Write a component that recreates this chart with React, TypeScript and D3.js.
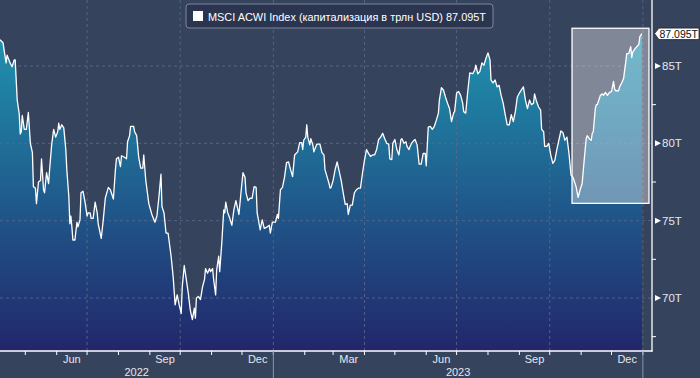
import React from 'react';
import * as d3 from 'd3';

// MSCI ACWI market capitalisation, trillions USD
const msciPoints: [string, number][] = [
  ['2022-04-06', 86.7], ['2022-04-09', 86.5], ['2022-04-12', 85.2], ['2022-04-13', 85.7], ['2022-04-16', 85.2],
  ['2022-04-18', 84.95], ['2022-04-20', 85.4], ['2022-04-21', 85.4], ['2022-04-23', 82.8], ['2022-04-25', 81.9],
  ['2022-04-26', 80.6], ['2022-04-27', 80.75], ['2022-04-28', 81.8], ['2022-04-30', 80.9],
  ['2022-05-02', 80.9], ['2022-05-04', 82.0], ['2022-05-06', 80.0], ['2022-05-08', 79.4], ['2022-05-09', 77.2],
  ['2022-05-11', 77.1], ['2022-05-12', 76.1], ['2022-05-14', 77.5], ['2022-05-16', 77.6], ['2022-05-17', 79.0],
  ['2022-05-19', 77.0], ['2022-05-20', 76.8], ['2022-05-22', 78.1], ['2022-05-24', 77.4], ['2022-05-25', 78.3],
  ['2022-05-27', 79.9], ['2022-05-29', 80.9], ['2022-05-31', 80.4],
  ['2022-06-02', 80.75], ['2022-06-03', 81.3], ['2022-06-04', 80.9], ['2022-06-06', 81.2], ['2022-06-08', 81.0],
  ['2022-06-10', 79.6], ['2022-06-11', 78.3], ['2022-06-13', 76.55], ['2022-06-14', 74.8], ['2022-06-15', 75.3],
  ['2022-06-16', 74.6], ['2022-06-17', 73.75], ['2022-06-19', 73.75], ['2022-06-21', 74.9], ['2022-06-22', 74.6],
  ['2022-06-24', 75.05], ['2022-06-25', 76.8], ['2022-06-27', 76.9], ['2022-06-29', 76.2],
  ['2022-07-01', 75.3], ['2022-07-02', 75.5], ['2022-07-04', 75.5], ['2022-07-05', 75.15], ['2022-07-07', 75.15],
  ['2022-07-09', 76.2], ['2022-07-11', 75.5], ['2022-07-12', 74.8], ['2022-07-15', 73.85], ['2022-07-17', 75.05],
  ['2022-07-19', 76.45], ['2022-07-22', 77.15], ['2022-07-24', 77.0], ['2022-07-27', 76.4], ['2022-07-29', 78.3],
  ['2022-07-30', 79.0],
  ['2022-08-01', 79.1], ['2022-08-03', 78.5], ['2022-08-04', 79.2], ['2022-08-07', 79.1], ['2022-08-09', 79.0],
  ['2022-08-10', 80.1], ['2022-08-12', 80.5], ['2022-08-13', 81.1], ['2022-08-16', 81.1], ['2022-08-17', 80.75],
  ['2022-08-19', 80.5], ['2022-08-21', 79.1], ['2022-08-23', 78.4], ['2022-08-25', 78.4], ['2022-08-26', 79.25],
  ['2022-08-28', 77.6], ['2022-08-31', 76.1],
  ['2022-09-03', 75.4], ['2022-09-06', 74.9], ['2022-09-08', 75.3], ['2022-09-10', 76.55], ['2022-09-12', 78.0],
  ['2022-09-13', 75.9], ['2022-09-15', 75.5], ['2022-09-17', 74.2], ['2022-09-19', 74.2], ['2022-09-22', 72.7],
  ['2022-09-24', 71.4], ['2022-09-26', 69.55], ['2022-09-28', 70.2], ['2022-09-30', 69.55],
  ['2022-10-02', 69.0], ['2022-10-03', 70.7], ['2022-10-05', 72.1], ['2022-10-07', 71.2], ['2022-10-09', 70.3],
  ['2022-10-11', 69.2], ['2022-10-13', 68.6], ['2022-10-15', 69.35], ['2022-10-16', 68.7], ['2022-10-17', 70.0],
  ['2022-10-19', 70.1], ['2022-10-21', 69.9], ['2022-10-23', 70.7], ['2022-10-25', 71.2], ['2022-10-26', 71.9],
  ['2022-10-28', 71.6], ['2022-10-30', 71.9], ['2022-10-31', 71.7],
  ['2022-11-02', 71.9], ['2022-11-03', 71.2], ['2022-11-05', 70.2], ['2022-11-06', 71.8], ['2022-11-08', 72.7],
  ['2022-11-09', 71.7], ['2022-11-11', 73.5], ['2022-11-13', 75.7], ['2022-11-14', 75.5], ['2022-11-15', 76.2],
  ['2022-11-17', 75.5], ['2022-11-19', 75.15], ['2022-11-21', 74.7], ['2022-11-23', 75.7], ['2022-11-25', 76.3],
  ['2022-11-28', 75.4], ['2022-11-30', 76.8],
  ['2022-12-02', 78.1], ['2022-12-04', 77.8], ['2022-12-05', 76.8], ['2022-12-07', 76.3], ['2022-12-09', 76.45],
  ['2022-12-11', 76.45], ['2022-12-13', 77.2], ['2022-12-15', 77.15], ['2022-12-16', 75.5], ['2022-12-19', 74.4],
  ['2022-12-21', 75.05], ['2022-12-23', 74.5], ['2022-12-26', 74.6], ['2022-12-28', 74.7], ['2022-12-29', 74.2],
  ['2022-12-31', 74.9],
  ['2023-01-03', 74.9], ['2023-01-05', 75.4], ['2023-01-06', 75.15], ['2023-01-08', 77.0], ['2023-01-10', 77.15],
  ['2023-01-12', 77.8], ['2023-01-14', 78.75], ['2023-01-16', 78.8], ['2023-01-18', 78.3], ['2023-01-20', 77.85],
  ['2023-01-22', 79.25], ['2023-01-25', 79.45], ['2023-01-27', 80.05], ['2023-01-29', 80.05], ['2023-01-30', 79.6],
  ['2023-01-31', 80.2],
  ['2023-02-02', 80.4], ['2023-02-03', 81.2], ['2023-02-04', 80.4], ['2023-02-06', 79.9], ['2023-02-07', 80.3],
  ['2023-02-09', 79.9], ['2023-02-10', 79.45], ['2023-02-12', 79.8], ['2023-02-13', 79.95], ['2023-02-16', 79.95],
  ['2023-02-18', 79.4], ['2023-02-20', 79.25], ['2023-02-21', 78.3], ['2023-02-23', 77.85], ['2023-02-25', 77.4],
  ['2023-02-26', 77.1], ['2023-02-27', 77.15],
  ['2023-03-01', 77.6], ['2023-03-03', 78.3], ['2023-03-05', 78.8], ['2023-03-07', 78.2], ['2023-03-09', 77.6],
  ['2023-03-11', 76.8], ['2023-03-13', 76.05], ['2023-03-15', 76.1], ['2023-03-16', 75.4], ['2023-03-18', 76.0],
  ['2023-03-20', 76.0], ['2023-03-22', 76.8], ['2023-03-24', 77.0], ['2023-03-26', 77.1], ['2023-03-28', 77.1],
  ['2023-03-30', 78.05],
  ['2023-04-01', 78.9], ['2023-04-03', 79.6], ['2023-04-05', 79.35], ['2023-04-07', 79.15], ['2023-04-09', 79.25],
  ['2023-04-11', 79.25], ['2023-04-13', 79.6], ['2023-04-15', 80.25], ['2023-04-17', 80.4], ['2023-04-19', 80.65],
  ['2023-04-21', 80.3], ['2023-04-23', 80.0], ['2023-04-25', 79.95], ['2023-04-26', 79.0], ['2023-04-28', 78.95],
  ['2023-04-29', 80.0],
  ['2023-05-01', 80.25], ['2023-05-03', 79.6], ['2023-05-05', 79.25], ['2023-05-07', 80.25], ['2023-05-08', 80.3],
  ['2023-05-10', 80.0], ['2023-05-12', 80.1], ['2023-05-13', 79.8], ['2023-05-15', 79.6], ['2023-05-16', 79.8],
  ['2023-05-18', 80.05], ['2023-05-20', 80.2], ['2023-05-21', 80.25], ['2023-05-23', 79.9], ['2023-05-25', 78.65],
  ['2023-05-27', 78.65], ['2023-05-29', 79.35], ['2023-05-31', 79.35],
  ['2023-06-01', 78.55], ['2023-06-03', 81.05], ['2023-06-05', 81.1], ['2023-06-07', 80.9], ['2023-06-09', 81.1],
  ['2023-06-11', 81.5], ['2023-06-13', 81.95], ['2023-06-14', 82.8], ['2023-06-16', 83.6], ['2023-06-18', 83.45],
  ['2023-06-20', 83.0], ['2023-06-22', 82.6], ['2023-06-24', 82.25], ['2023-06-26', 81.4], ['2023-06-28', 81.95],
  ['2023-06-29', 82.05],
  ['2023-07-01', 83.25], ['2023-07-03', 83.35], ['2023-07-05', 83.1], ['2023-07-07', 82.6], ['2023-07-08', 82.05],
  ['2023-07-10', 81.95], ['2023-07-12', 83.35], ['2023-07-14', 84.55], ['2023-07-17', 84.5], ['2023-07-19', 84.75],
  ['2023-07-20', 85.05], ['2023-07-22', 84.5], ['2023-07-24', 84.65], ['2023-07-26', 85.2], ['2023-07-28', 85.05],
  ['2023-07-30', 85.5],
  ['2023-08-01', 85.85], ['2023-08-03', 85.4], ['2023-08-04', 84.1], ['2023-08-06', 83.9], ['2023-08-08', 84.1],
  ['2023-08-10', 83.65], ['2023-08-12', 83.75], ['2023-08-14', 83.1], ['2023-08-16', 82.6], ['2023-08-18', 81.85],
  ['2023-08-20', 81.2], ['2023-08-22', 81.2], ['2023-08-24', 81.85], ['2023-08-26', 81.4], ['2023-08-28', 82.05],
  ['2023-08-30', 83.0],
  ['2023-09-01', 83.25], ['2023-09-03', 83.45], ['2023-09-05', 83.65], ['2023-09-07', 82.8], ['2023-09-09', 82.25],
  ['2023-09-11', 82.8], ['2023-09-13', 82.5], ['2023-09-15', 82.6], ['2023-09-16', 83.2], ['2023-09-18', 82.7],
  ['2023-09-20', 82.35], ['2023-09-22', 82.15], ['2023-09-23', 80.9], ['2023-09-25', 80.75], ['2023-09-26', 79.8],
  ['2023-09-28', 79.8], ['2023-09-30', 80.0],
  ['2023-10-02', 79.25], ['2023-10-04', 78.7], ['2023-10-06', 78.9], ['2023-10-08', 79.6], ['2023-10-10', 80.2],
  ['2023-10-12', 80.8], ['2023-10-14', 80.7], ['2023-10-16', 80.2], ['2023-10-18', 80.4], ['2023-10-20', 79.35],
  ['2023-10-22', 77.95], ['2023-10-24', 77.8], ['2023-10-27', 77.2], ['2023-10-29', 76.5], ['2023-10-31', 77.0],
  ['2023-11-02', 77.4], ['2023-11-04', 78.9], ['2023-11-06', 80.3], ['2023-11-07', 80.5], ['2023-11-09', 80.3],
  ['2023-11-11', 80.2], ['2023-11-12', 80.65], ['2023-11-13', 80.75], ['2023-11-15', 82.25], ['2023-11-16', 82.5],
  ['2023-11-17', 82.5], ['2023-11-19', 82.9], ['2023-11-20', 83.1], ['2023-11-22', 83.2], ['2023-11-23', 83.1],
  ['2023-11-25', 83.3], ['2023-11-27', 83.1], ['2023-11-29', 83.3],
  ['2023-12-01', 83.35], ['2023-12-03', 84.0], ['2023-12-04', 83.55], ['2023-12-05', 83.4], ['2023-12-08', 83.4],
  ['2023-12-09', 83.65], ['2023-12-11', 83.9], ['2023-12-13', 84.2], ['2023-12-14', 84.75], ['2023-12-15', 85.2],
  ['2023-12-16', 85.8], ['2023-12-18', 85.8], ['2023-12-20', 86.25], ['2023-12-21', 85.55], ['2023-12-22', 85.9],
  ['2023-12-24', 86.1], ['2023-12-26', 86.25], ['2023-12-28', 86.4], ['2023-12-29', 86.9], ['2023-12-31', 87.095],
];

const xDomain = ['2022-04-06', '2024-01-10'];
const yTicks = [70, 75, 80, 85];
const yMinorTicks = [67.5, 72.5, 77.5, 82.5];
const labelMonths = [2, 5, 8, 11]; // Mar, Jun, Sep, Dec
const years = [2022, 2023];
const highlightDates = ['2023-10-23', '2024-01-07'];
const highlightRange = [76.12, 87.44];
const legendTitle = 'MSCI ACWI Index (капитализация в трлн USD)';
const lastValueLabel = '87.095T';

const FONT = '"Liberation Sans", Arial, sans-serif';

export default function App() {
  const W = 700;
  const H = 378;
  const plotR = 652;
  const plotB = 351;
  const parse = d3.timeParse('%Y-%m-%d');
  const data = msciPoints.map(([d, v]) => ({ date: parse(d) as Date, value: v }));

  const x = d3.scaleTime().domain([parse(xDomain[0]) as Date, parse(xDomain[1]) as Date]).range([0, plotR]);
  const y = d3.scaleLinear().domain([70, 85]).range([298, 66]);

  const areaGen = d3
    .area<{ date: Date; value: number }>()
    .x((d) => x(d.date))
    .y0(plotB)
    .y1((d) => y(d.value));
  const lineGen = d3
    .line<{ date: Date; value: number }>()
    .x((d) => x(d.date))
    .y((d) => y(d.value));

  const months = d3.timeMonth.range(parse('2022-05-01') as Date, parse('2024-01-02') as Date);
  const quarters = months.filter((m) => m.getMonth() % 3 === 0);
  const fmt = d3.timeFormat('%b');
  const last = data[data.length - 1];
  const ly = y(last.value);

  const hx0 = x(parse(highlightDates[0]) as Date);
  const hx1 = x(parse(highlightDates[1]) as Date);
  const hy0 = y(highlightRange[1]);
  const hy1 = y(highlightRange[0]);

  const bg = '#36435c';
  const grid = '#5a6a8c';
  const textCol = '#e3e7ee';

  return (
    <svg width={W} height={H} style={{ position: 'absolute', left: 0, top: 0, display: 'block' }} fontFamily={FONT}>
      <defs>
        <linearGradient id="areaGrad" gradientUnits="userSpaceOnUse" x1={0} y1={30} x2={0} y2={plotB}>
          <stop offset="0" stopColor="#1f95b1" />
          <stop offset="0.5" stopColor="#1f5e8e" />
          <stop offset="1" stopColor="#22266a" />
        </linearGradient>
        <clipPath id="plotClip">
          <rect x={0} y={0} width={plotR} height={plotB} />
        </clipPath>
      </defs>
      <rect x={0} y={0} width={W} height={H} fill={bg} />

      <g clipPath="url(#plotClip)">
        <path d={areaGen(data) || ''} fill="url(#areaGrad)" />
        {yTicks.map((t) => (
          <line key={'hg' + t} x1={0} x2={plotR} y1={y(t)} y2={y(t)} stroke={grid} strokeWidth={1} strokeDasharray="3,3" opacity={0.85} />
        ))}
        {quarters.map((q) => (
          <line key={'vg' + q.getTime()} x1={x(q)} x2={x(q)} y1={0} y2={plotB} stroke={grid} strokeWidth={1} strokeDasharray="3,3" opacity={0.85} />
        ))}
        <rect x={hx0} y={hy0} width={hx1 - hx0} height={hy1 - hy0} fill="rgba(255,255,255,0.37)" />
        <path d={lineGen(data) || ''} fill="none" stroke="#ffffff" strokeWidth={1.3} strokeLinejoin="round" />
        <rect x={hx0} y={hy0} width={hx1 - hx0} height={hy1 - hy0} fill="none" stroke="#ffffff" strokeWidth={1.3} />
      </g>

      {/* plot frame */}
      <line x1={plotR} x2={plotR} y1={0} y2={plotB + 0.5} stroke="#ffffff" strokeWidth={1.3} />
      <line x1={0} x2={plotR + 0.6} y1={plotB} y2={plotB} stroke="#ffffff" strokeWidth={1.5} />

      {/* bottom axis */}
      {months.map((m) => (
        <line key={'mt' + m.getTime()} x1={x(m)} x2={x(m)} y1={plotB} y2={plotB + 4} stroke="#ffffff" strokeWidth={1} />
      ))}
      {months
        .filter((m) => labelMonths.includes(m.getMonth()))
        .map((m) => {
          const next = d3.timeMonth.offset(m, 1);
          return (
            <text key={'ml' + m.getTime()} x={(x(m) + x(next)) / 2} y={363} textAnchor="middle" fontSize={11} fill={textCol}>
              {fmt(m)}
            </text>
          );
        })}
      {years.map((yr) => {
        const a = Math.max(0, x(new Date(yr, 0, 1)));
        const b = x(new Date(yr + 1, 0, 1));
        return (
          <g key={'yr' + yr}>
            <text x={(a + b) / 2} y={376} textAnchor="middle" fontSize={11} fill={textCol}>
              {yr}
            </text>
            <line x1={b} x2={b} y1={plotB} y2={H} stroke="#8a94a8" strokeWidth={1} />
          </g>
        );
      })}

      {/* right axis */}
      {yMinorTicks.map((t) => (
        <line key={'ymt' + t} x1={plotR} x2={plotR + 4} y1={y(t)} y2={y(t)} stroke="#ffffff" strokeWidth={1} />
      ))}
      {yTicks.map((t) => (
        <g key={'yl' + t}>
          <path d={`M${plotR + 3},${y(t) - 3}L${plotR + 9},${y(t)}L${plotR + 3},${y(t) + 3}Z`} fill="#ffffff" />
          <text x={plotR + 10} y={y(t) + 4} fontSize={11.5} fill={textCol}>
            {t + 'T'}
          </text>
        </g>
      ))}

      {/* last value label */}
      <path
        d={`M${plotR + 2.5},${ly}L${plotR + 7},${ly - 5.5}L${W - 1},${ly - 5.5}L${W - 1},${ly + 6}L${plotR + 7},${ly + 6}Z`}
        fill="#ffffff"
        stroke="#222"
        strokeWidth={0.8}
      />
      <text x={plotR + 7.5} y={ly + 4} fontSize={10.5} fill="#111">
        {lastValueLabel}
      </text>

      {/* legend */}
      <rect x={186} y={4} width={307} height={24} rx={3} fill="#2b3550" stroke="#7f889c" strokeWidth={1} />
      <rect x={193} y={11} width={10} height={10} fill="#ffffff" />
      <text x={208} y={20.5} fontSize={11.5} fill="#ffffff" textLength={278} lengthAdjust="spacingAndGlyphs">
        {legendTitle + '  ' + lastValueLabel}
      </text>
    </svg>
  );
}
